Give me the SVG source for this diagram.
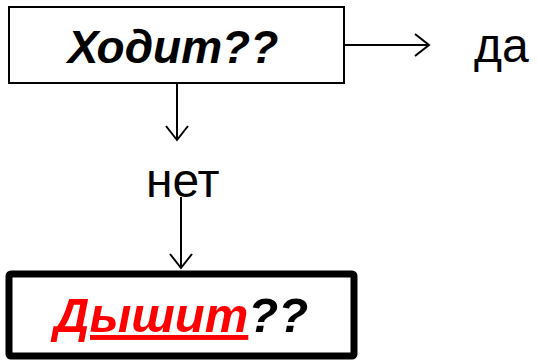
<svg xmlns="http://www.w3.org/2000/svg" width="538" height="361" viewBox="0 0 538 361">
<style>
.t{font-family:"Liberation Sans",Arial,sans-serif;font-size:48px;fill:#000}
.b{font-weight:bold;font-style:italic}
.c{stroke:#000;stroke-width:2;fill:none}
</style>
<defs>
<marker id="a" markerWidth="18" markerHeight="26" refX="15" refY="13" orient="auto" markerUnits="userSpaceOnUse">
<path d="M1,2 L15,13 L1,24" fill="none" stroke="#000" stroke-width="2"/>
</marker>
</defs>
<rect width="538" height="361" fill="#fff"/>
<g id="node-hodit">
<rect x="9" y="7" width="335" height="76" fill="#fff" stroke="#000" stroke-width="2"/>
<text class="t b" x="173" y="63" text-anchor="middle" style="font-size:46px">Ходит??</text>
</g>
<g id="node-da">
<text class="t" x="474" y="62">да</text>
</g>
<g id="node-net">
<text class="t" x="146" y="197">нет</text>
</g>
<g id="node-dyshit">
<rect x="9" y="274" width="345" height="82" rx="2" fill="#fff" stroke="#000" stroke-width="7"/>
<text class="t b" x="54" y="332" style="font-size:49px"><tspan fill="#f00" text-decoration="underline">Дышит</tspan><tspan>??</tspan></text>
</g>
<g id="connectors">
<line class="c" x1="344" y1="45" x2="429" y2="45" marker-end="url(#a)"/>
<line class="c" x1="177" y1="84" x2="177" y2="140" marker-end="url(#a)"/>
<line class="c" x1="181" y1="197" x2="181" y2="268" marker-end="url(#a)"/>
</g>
</svg>
